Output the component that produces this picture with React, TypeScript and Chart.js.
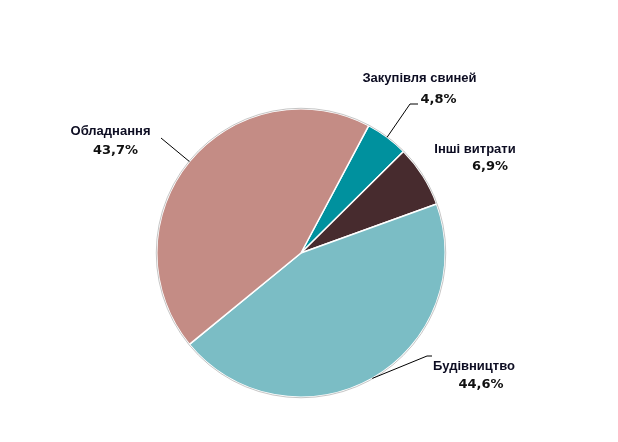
import React, { useEffect, useRef } from "react";
import { Chart, registerables } from "chart.js";

Chart.register(...registerables);

const categories = ["Закупівля свиней", "Інші витрати", "Будівництво", "Обладнання"];
const shares = [4.8, 6.9, 44.6, 43.7];
const percentLabels = ["4,8%", "6,9%", "44,6%", "43,7%"];
const sliceColors = ["#00919E", "#472B2E", "#7BBDC5", "#C48C85"];

// label layout (relative to pie centre): name centre, percent centre, leader end points
const labelLayout = [
  { name: [118.5, -175], pct: [137.5, -153], leader: [[109, -149], [117, -149]] },
  { name: [174, -104], pct: [189, -86], leader: null },
  { name: [173, 113], pct: [180, 132], leader: [[126, 103], [131, 103]] },
  { name: [-190.5, -122], pct: [-185.5, -102], leader: [[-140, -115]] },
];

const labelPlugin = {
  id: "outerLabels",
  afterDatasetsDraw(chart: any) {
    const ctx = chart.ctx;
    const meta = chart.getDatasetMeta(0);
    ctx.save();
    const a0: any = meta.data[0];
    ctx.beginPath();
    ctx.arc(a0.x, a0.y, a0.outerRadius + 0.5, 0, Math.PI * 2);
    ctx.strokeStyle = "rgba(160,160,160,0.6)";
    ctx.lineWidth = 1;
    ctx.stroke();
    meta.data.forEach((arc: any, i: number) => {
      const cx = arc.x;
      const cy = arc.y;
      const mid = (arc.startAngle + arc.endAngle) / 2;
      const lay = labelLayout[i];
      if (lay.leader) {
        ctx.beginPath();
        ctx.moveTo(cx + Math.cos(mid) * arc.outerRadius, cy + Math.sin(mid) * arc.outerRadius);
        lay.leader.forEach((p: number[]) => ctx.lineTo(cx + p[0], cy + p[1]));
        ctx.strokeStyle = "#000";
        ctx.lineWidth = 1;
        ctx.stroke();
      }
      ctx.textAlign = "center";
      ctx.textBaseline = "middle";
      ctx.fillStyle = "#0d0d22";
      ctx.font = "bold 13px 'Liberation Sans', Arial, sans-serif";
      ctx.fillText(categories[i], cx + lay.name[0], cy + lay.name[1]);
      ctx.fillStyle = "#111";
      ctx.font = "bold 13px 'DejaVu Sans', Verdana, sans-serif";
      ctx.fillText(percentLabels[i], cx + lay.pct[0], cy + lay.pct[1]);
    });
    ctx.restore();
  },
};

export default function App() {
  const ref = useRef<HTMLCanvasElement>(null);
  useEffect(() => {
    document.body.style.margin = "0";
    const chart = new Chart(ref.current!, {
      type: "pie",
      data: {
        labels: categories,
        datasets: [
          {
            data: shares,
            backgroundColor: sliceColors,
            borderColor: "#ffffff",
            borderWidth: 1.5,
          },
        ],
      },
      options: {
        responsive: false,
        animation: false,
        rotation: 28,
        layout: { padding: { top: 108, bottom: 44, left: 0, right: 16 } },
        plugins: {
          legend: { display: false },
          tooltip: { enabled: false },
        },
      },
      plugins: [labelPlugin],
    });
    return () => chart.destroy();
  }, []);
  return (
    <div style={{ width: 618, height: 442, background: "#fff" }}>
      <canvas ref={ref} width={618} height={442} />
    </div>
  );
}
